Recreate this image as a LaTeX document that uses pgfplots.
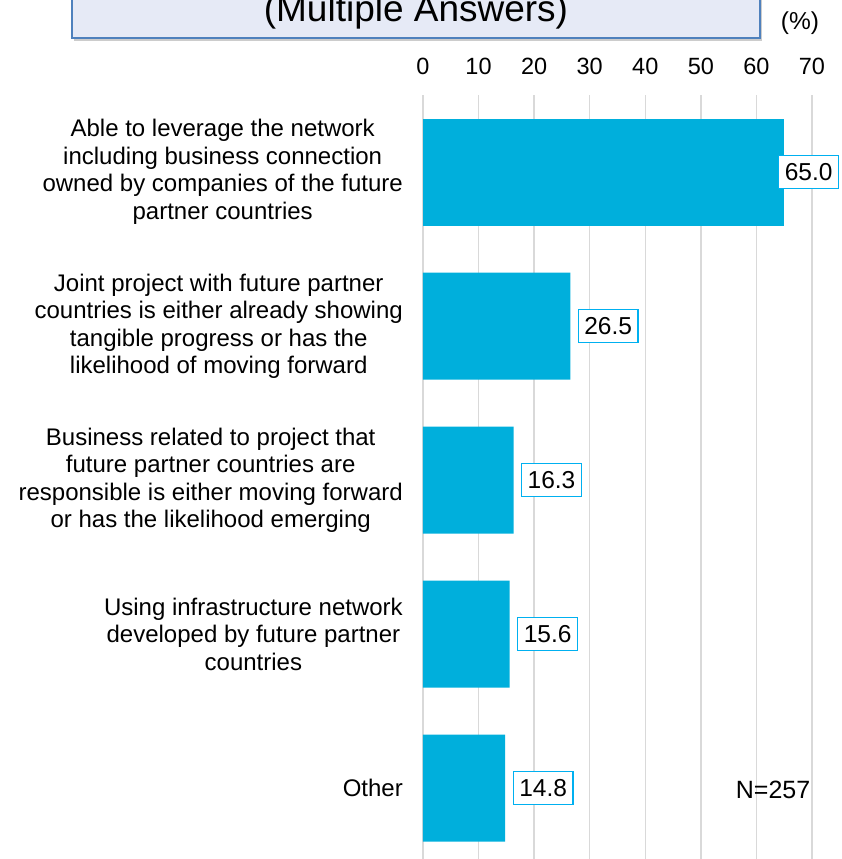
\documentclass[border=0pt]{standalone}
\usepackage{pgfplots}
\pgfplotsset{compat=1.18}
\usepackage{fontspec}
\setmainfont{Liberation Sans}
\usetikzlibrary{shadows}
\definecolor{barc}{RGB}{0,175,220}
\definecolor{lblc}{RGB}{0,176,240}
\definecolor{gridc}{RGB}{217,217,217}
\definecolor{boxfill}{RGB}{230,234,246}
\definecolor{boxdraw}{RGB}{79,129,189}
\begin{document}
\begin{tikzpicture}
\useasboundingbox (-423pt,0pt) rectangle (419pt,859pt);
\begin{axis}[
  at={(0,0)}, anchor=south west,
  scale only axis, width=389pt, height=764pt,
  xmin=0, xmax=70, ymin=-0.5, ymax=4.46,
  y dir=reverse,
  xbar, bar width=107pt,
  xtick={0,10,...,70},
  xticklabel pos=upper,
  xmajorgrids, grid style={gridc, line width=1.3pt},
  axis line style={draw=none},
  major tick length=0pt,
  /pgf/number format/assume math mode=true,
  xticklabel style={font=\fontsize{23.5}{27}\selectfont, anchor=south, inner sep=0pt, yshift=20pt},
  ytick={0,1,2,3,4},
  yticklabels={
    {Able to leverage the network\\including business connection\\owned by companies of the future\\partner countries},
    {Joint project with future partner\\countries is either already showing\\tangible progress or has the\\likelihood of moving forward},
    {Business related to project that\\future partner countries are\\responsible is either moving forward\\or has the likelihood emerging},
    {Using infrastructure network\\developed by future partner\\countries},
    {Other}},
  yticklabel style={font=\fontsize{24}{27.5}\selectfont, align=center, anchor=east, inner sep=0pt, xshift=-20pt},
  clip=false,
  nodes near coords,
  nodes near coords style={draw=lblc, line width=1.2pt, fill=white, text=black,
    font=\fontsize{24.5}{28}\selectfont, inner xsep=6pt, inner ysep=8pt,
    /pgf/number format/fixed, /pgf/number format/fixed zerofill,
    /pgf/number format/precision=1, /pgf/number format/assume math mode=true},
]
\addplot[fill=barc, draw=none, bar shift=0pt,
  nodes near coords style={anchor=west, xshift=-6pt}]
  coordinates {(65.0,0)};
\addplot[fill=barc, draw=none, bar shift=0pt,
  nodes near coords style={anchor=west, xshift=7.5pt}]
  coordinates {(26.5,1) (16.3,2) (15.6,3) (14.8,4)};
\node[font=\fontsize{25}{28}\selectfont] at (axis cs:63,4.01) {N=257};
\end{axis}
\draw[boxdraw, line width=1.5pt, fill=boxfill, drop shadow={shadow xshift=2pt, shadow yshift=-3pt, opacity=0.4}]
  (-351pt,821pt) rectangle (337pt,885pt);
\node[anchor=base, font=\fontsize{37}{40}\selectfont, inner sep=0pt] at (-7pt,837pt) {(Multiple Answers)};
\node[font=\fontsize{24.5}{28}\selectfont] at (377pt,836pt) {(\%)};
\end{tikzpicture}
\end{document}
